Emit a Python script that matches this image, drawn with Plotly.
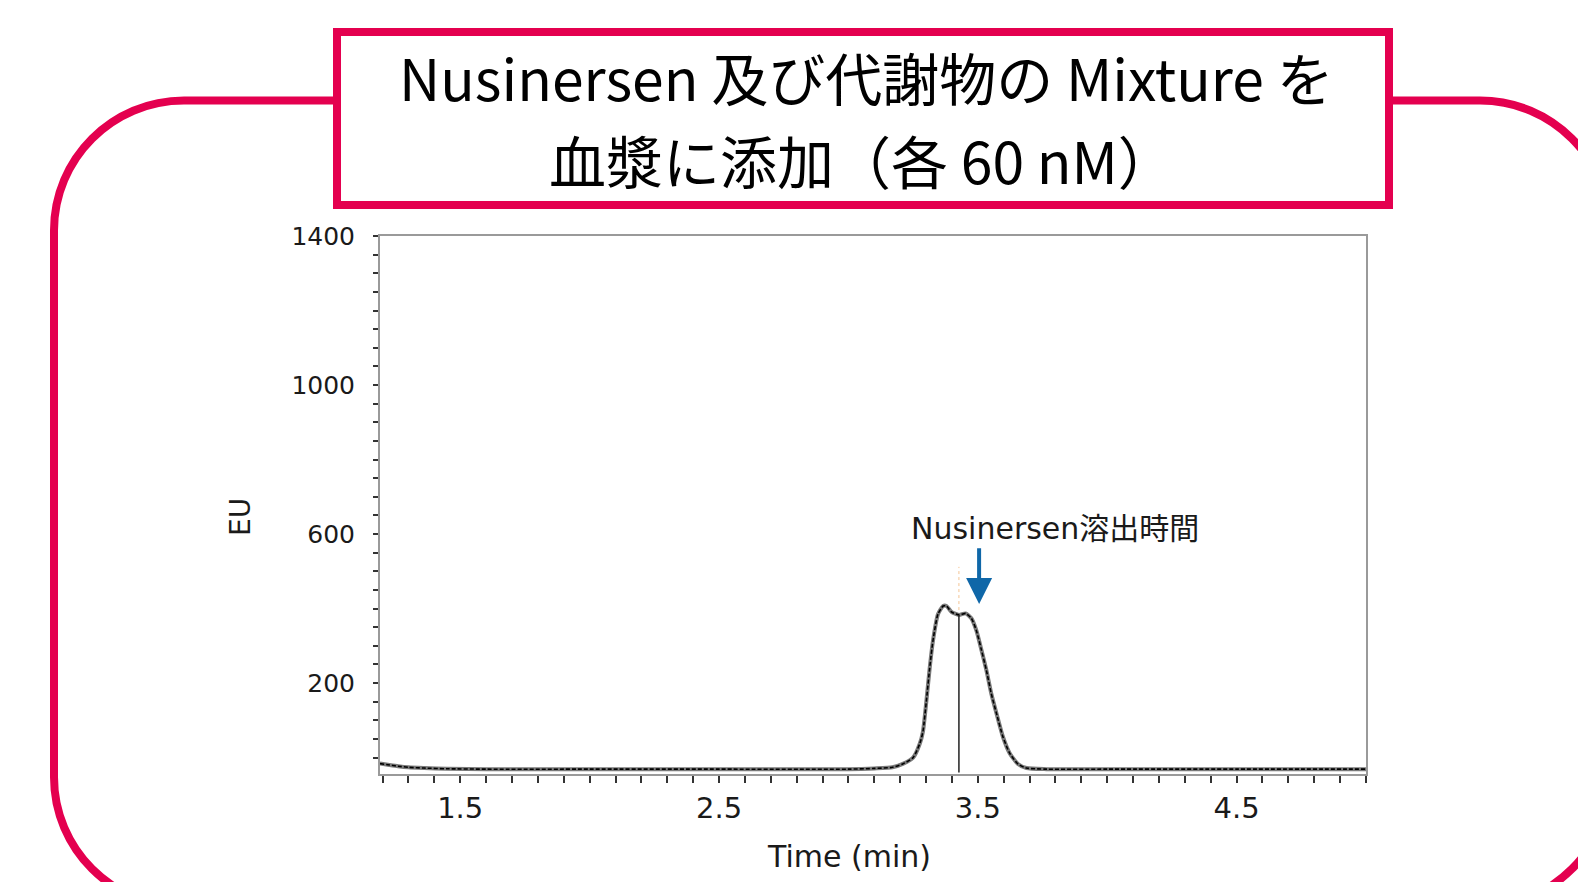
import plotly.graph_objects as go

# Chromatogram trace (retention time in min, fluorescence in EU)
time_min = [1.19, 1.22, 1.26, 1.30, 1.36, 1.45, 1.60, 2.00, 2.50, 3.00, 3.10, 3.17,
            3.21, 3.25, 3.276, 3.288, 3.301, 3.314, 3.327, 3.346, 3.366, 3.379, 3.398,
            3.427, 3.453, 3.475, 3.494, 3.514, 3.533, 3.552, 3.572, 3.597, 3.623,
            3.655, 3.688, 3.765, 4.00, 4.50, 5.00]
eu_signal = [-16, -19, -23, -26, -28, -30, -31, -31, -31, -31, -29, -26,
             -17, 0, 38, 70, 150, 240, 315, 385, 407, 407, 391,
             383, 387, 374, 342, 289, 235, 172, 119, 56, 12,
             -17, -28, -31, -31, -31, -31]

# Integration marker at the valley between the two apexes
marker_time = [3.427, 3.427]
marker_eu = [-40, 383]
guide_eu = [396, 512]

# Arrow pointing to the Nusinersen elution time
arrow_time = 3.505
arrow_tip_eu = 412
arrow_tail_eu = 566
arrow_label = "Nusinersen溶出時間"
label_time = 3.797
label_eu = 616

x_tickvals = [1.5, 2.5, 3.5, 4.5]
x_ticktext = ["1.5", "2.5", "3.5", "4.5"]
y_tickvals = [200, 600, 1000, 1400]
y_ticktext = ["200", "600", "1000", "1400"]

title_line1 = "Nusinersen 及び代謝物の Mixture を"
title_line2 = "血漿に添加（各 60 nM）"

W, H = 1578, 882
ML, MR, MT, MB = 380, 212, 236, 108
PW, PH = W - ML - MR, H - MT - MB
CRIMSON = "#E4004F"


def px(x):
    return (x - ML) / PW


def py(y):
    return (H - MB - y) / PH


def rounded_rect_path(x0, y0, x1, y1, r):
    k = 0.5523 * r
    pts = [
        ("M", [(x0 + r, y0)]),
        ("L", [(x1 - r, y0)]),
        ("C", [(x1 - r + k, y0), (x1, y0 + r - k), (x1, y0 + r)]),
        ("L", [(x1, y1 - r)]),
        ("C", [(x1, y1 - r + k), (x1 - r + k, y1), (x1 - r, y1)]),
        ("L", [(x0 + r, y1)]),
        ("C", [(x0 + r - k, y1), (x0, y1 - r + k), (x0, y1 - r)]),
        ("L", [(x0, y0 + r)]),
        ("C", [(x0, y0 + r - k), (x0 + r - k, y0), (x0 + r, y0)]),
    ]
    parts = []
    for cmd, coords in pts:
        parts.append(cmd + " ".join(f"{px(a):.5f},{py(b):.5f}" for a, b in coords))
    return " ".join(parts) + " Z"


fig = go.Figure()

# trace drawn as a grey stroke with a dark dashed core
fig.add_trace(go.Scatter(x=time_min, y=eu_signal, mode="lines",
                         line=dict(color="#7a7a7a", width=4, shape="spline", smoothing=0.6),
                         hoverinfo="skip", showlegend=False))
fig.add_trace(go.Scatter(x=time_min, y=eu_signal, mode="lines",
                         line=dict(color="#000000", width=1.6, shape="spline", smoothing=0.6, dash="4px,2px"),
                         hoverinfo="skip", showlegend=False))
fig.add_trace(go.Scatter(x=marker_time, y=marker_eu, mode="lines",
                         line=dict(color="#222222", width=1.5),
                         hoverinfo="skip", showlegend=False))
fig.add_trace(go.Scatter(x=marker_time, y=guide_eu, mode="lines",
                         line=dict(color="#f3b77a", width=1, dash="3px,3px"),
                         opacity=0.8, hoverinfo="skip", showlegend=False))

axis_common = dict(showgrid=False, zeroline=False, showline=True, linecolor="#9a9a9a",
                   linewidth=2, mirror=True, ticks="outside", tickcolor="#333333",
                   tickwidth=1.5)

fig.update_xaxes(range=[1.19, 5.0], tickvals=x_tickvals, ticktext=x_ticktext,
                 ticklen=7, ticklabelstandoff=0,
                 tickfont=dict(family="DejaVu Sans", size=29, color="#1a1a1a"),
                 minor=dict(dtick=0.1, tick0=0, ticks="outside", ticklen=7,
                            tickwidth=1.5, tickcolor="#333333"),
                 **axis_common)
fig.update_yaxes(range=[-44, 1400], tickvals=y_tickvals, ticktext=y_ticktext,
                 ticklen=5, ticklabelstandoff=13,
                 tickfont=dict(family="DejaVu Sans", size=25, color="#1a1a1a"),
                 minor=dict(dtick=50, tick0=0, ticks="outside", ticklen=5,
                            tickwidth=1.5, tickcolor="#333333"),
                 **axis_common)

shapes = [
    dict(type="path", xref="paper", yref="paper",
         path=rounded_rect_path(54, 100.5, 1610, 907, 130),
         line=dict(color=CRIMSON, width=8), layer="above"),
    dict(type="rect", xref="paper", yref="paper",
         x0=px(337), x1=px(1389), y0=py(32), y1=py(205),
         line=dict(color=CRIMSON, width=8), fillcolor="white", layer="above"),
]

title_font = dict(family="Noto Sans CJK JP", size=57, color="#000000")

annotations = [
    dict(x=arrow_time, y=arrow_tip_eu, ax=arrow_time, ay=arrow_tail_eu,
         xref="x", yref="y", axref="x", ayref="y", text="", showarrow=True,
         arrowhead=2, arrowsize=1.3, arrowwidth=4, arrowcolor="#0F67A8", standoff=0),
    dict(x=label_time, y=label_eu, xref="x", yref="y", text=arrow_label, showarrow=False,
         font=dict(family="DejaVu Sans, Noto Sans CJK JP", size=30, color="#1a1a1a"),
         xanchor="center", yanchor="middle"),
    dict(x=px(849), y=py(857), xref="paper", yref="paper", text="Time (min)",
         showarrow=False, xanchor="center", yanchor="middle",
         font=dict(family="DejaVu Sans", size=30, color="#1a1a1a")),
    dict(x=px(240), y=py(517), xref="paper", yref="paper", text="EU", textangle=-90,
         showarrow=False, xanchor="center", yanchor="middle",
         font=dict(family="DejaVu Sans", size=28, color="#1a1a1a")),
    dict(x=px(866), y=py(76), xref="paper", yref="paper", text=title_line1,
         showarrow=False, xanchor="center", yanchor="middle", font=title_font),
    dict(x=px(862), y=py(159), xref="paper", yref="paper", text=title_line2,
         showarrow=False, xanchor="center", yanchor="middle", font=title_font),
]

fig.update_layout(width=W, height=H, autosize=False,
                  margin=dict(l=ML, r=MR, t=MT, b=MB, pad=0),
                  paper_bgcolor="white", plot_bgcolor="white",
                  shapes=shapes, annotations=annotations, showlegend=False)

fig.write_html("out.html")
